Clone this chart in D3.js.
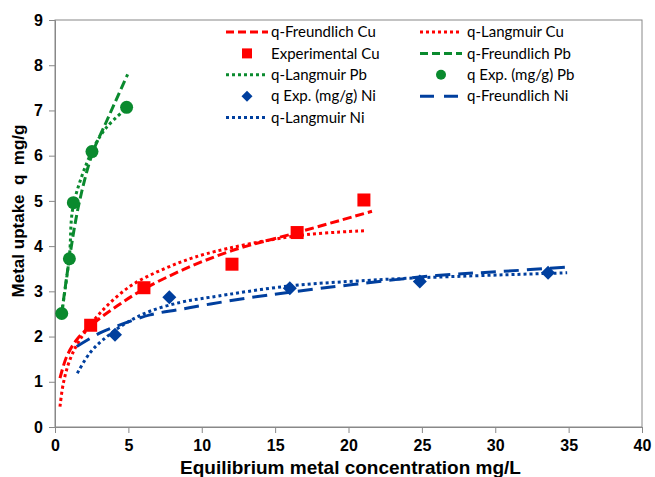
<!DOCTYPE html>
<html>
<head>
<meta charset="utf-8">
<script src="https://cdn.jsdelivr.net/npm/d3@7"></script>
<style>
  body { margin: 0; background: #fff; }
  svg { display: block; }
  .tick text { font-family: "Liberation Sans", Arial, sans-serif; font-weight: bold; font-size: 16px; fill: #000; }
  .legend text { font-family: Lato, "Open Sans", sans-serif; font-size: 15px; fill: #000; }
  .title { font-family: "Liberation Sans", Arial, sans-serif; font-weight: bold; fill: #000; }
</style>
</head>
<body>
<div id="chart"></div>
<script>
// data: [C, q]
const cuFreundlich = [[0.34,1.08],[0.8,1.56],[1.48,1.93],[2.43,2.24],[4.2,2.67],[6.06,3.05],[8.74,3.48],[12.06,3.9],[16.5,4.3],[21.6,4.77]];
const cuLangmuir = [[0.34,0.45],[0.57,0.97],[1.02,1.49],[1.7,1.93],[3.07,2.52],[5.11,3.11],[7.6,3.52],[10.3,3.83],[16.5,4.23],[21.2,4.34]];
const cuExp = [[2.43,2.25],[6.06,3.08],[12.06,3.6],[16.5,4.3],[21.05,5.02]];
const pbFreundlich = [[0.45,2.5],[0.98,3.72],[1.65,4.96],[2.55,6.05],[3.5,6.75],[4.95,7.8]];
const pbLangmuir = [[0.46,2.52],[0.98,3.78],[1.25,4.9],[2.52,6.1],[3.5,6.62],[4.88,7.05]];
const pbExp = [[0.46,2.51],[0.98,3.72],[1.25,4.96],[2.52,6.09],[4.88,7.07]];
const niExp = [[4.09,2.04],[7.79,2.87],[16.0,3.07],[24.86,3.22],[33.6,3.41]];
const niFreundlich = [[1.48,1.78],[3.07,2.08],[4.2,2.23],[6.47,2.48],[8.52,2.6],[10.6,2.72],[13.06,2.85],[16,2.98],[20.3,3.15],[26,3.35],[30.5,3.44],[35.1,3.54]];
const niLangmuir = [[1.52,1.19],[2.38,1.64],[3.28,1.93],[4.85,2.3],[6.47,2.56],[8.6,2.76],[10.6,2.87],[16,3.12],[21.2,3.24],[24.9,3.3],[34.9,3.41]];

const xTicks = [0, 5, 10, 15, 20, 25, 30, 35, 40];
const yTicks = [0, 1, 2, 3, 4, 5, 6, 7, 8, 9];

const red = "#ff0000", green = "#0a8a2e", blue = "#003f9e";

const width = 655, height = 477;
const margin = { left: 55, right: 13, top: 20, bottom: 50 };

const svg = d3.select("#chart").append("svg")
  .attr("width", width)
  .attr("height", height);

const x = d3.scaleLinear().domain([0, 40]).range([margin.left, width - margin.right]);
const y = d3.scaleLinear().domain([0, 9]).range([height - margin.bottom, margin.top]);

// plot border
svg.append("rect")
  .attr("x", x(0)).attr("y", y(9))
  .attr("width", x(40) - x(0)).attr("height", y(0) - y(9))
  .attr("fill", "none").attr("stroke", "#888").attr("stroke-width", 1);

const xAxis = svg.append("g")
  .attr("transform", "translate(0," + y(0) + ")")
  .call(d3.axisBottom(x).tickValues(xTicks).tickSize(6).tickPadding(7));
const yAxis = svg.append("g")
  .attr("transform", "translate(" + x(0) + ",0)")
  .call(d3.axisLeft(y).tickValues(yTicks).tickSize(6).tickPadding(6));
[xAxis, yAxis].forEach(function(a) {
  a.select(".domain").attr("stroke", "#888");
  a.selectAll(".tick line").attr("stroke", "#888");
});

const line = d3.line()
  .x(function(d) { return x(d[0]); })
  .y(function(d) { return y(d[1]); })
  .curve(d3.curveCatmullRom.alpha(0.5));

const dashRed = "9,4", dashGreen = "9,4", dashBlue = "15,8", dots = "3,3";

function drawLine(data, color, dash) {
  svg.append("path")
    .datum(data)
    .attr("fill", "none")
    .attr("stroke", color)
    .attr("stroke-width", 3)
    .attr("stroke-dasharray", dash)
    .attr("d", line);
}

function drawMarker(g, type, cx, cy, size, color) {
  if (type === "square") {
    g.append("rect").attr("x", cx - size / 2).attr("y", cy - size / 2)
      .attr("width", size).attr("height", size).attr("fill", color);
  } else if (type === "circle") {
    g.append("circle").attr("cx", cx).attr("cy", cy).attr("r", size / 2).attr("fill", color);
  } else {
    const h = size / 2;
    g.append("path").attr("d", "M" + cx + "," + (cy - h) + "L" + (cx + h) + "," + cy + "L" + cx + "," + (cy + h) + "L" + (cx - h) + "," + cy + "Z")
      .attr("fill", color);
  }
}

function drawPoints(data, type, size, color) {
  data.forEach(function(d) { drawMarker(svg, type, x(d[0]), y(d[1]), size, color); });
}

drawLine(cuFreundlich, red, dashRed);
drawLine(cuLangmuir, red, dots);
drawPoints(cuExp, "square", 13, red);
drawLine(pbFreundlich, green, dashGreen);
drawLine(pbLangmuir, green, dots);
drawPoints(pbExp, "circle", 13, green);
drawPoints(niExp, "diamond", 14, blue);
drawLine(niFreundlich, blue, dashBlue);
drawLine(niLangmuir, blue, dots);

// legend
const legendItems = [
  { label: "q-Freundlich Cu", kind: "line", color: red, dash: "8,4" },
  { label: "q-Langmuir Cu", kind: "line", color: red, dash: dots },
  { label: "Experimental Cu", kind: "square", color: red },
  { label: "q-Freundlich Pb", kind: "line", color: green, dash: "8,4" },
  { label: "q-Langmuir Pb", kind: "line", color: green, dash: dots },
  { label: "q Exp. (mg/g) Pb", kind: "circle", color: green },
  { label: "q Exp. (mg/g) Ni", kind: "diamond", color: blue },
  { label: "q-Freundlich Ni", kind: "line", color: blue, dash: "14,10" },
  { label: "q-Langmuir Ni", kind: "line", color: blue, dash: dots }
];
const colX = [226, 420], rowY0 = 32, rowH = 21.4;
const legend = svg.append("g").attr("class", "legend");
legendItems.forEach(function(it, i) {
  const cx = colX[i % 2], cy = rowY0 + Math.floor(i / 2) * rowH;
  if (it.kind === "line") {
    legend.append("line")
      .attr("x1", cx).attr("x2", cx + 42).attr("y1", cy).attr("y2", cy)
      .attr("stroke", it.color).attr("stroke-width", 3)
      .attr("stroke-dasharray", it.dash);
  } else {
    const s = it.kind === "diamond" ? 11 : 10;
    drawMarker(legend, it.kind, cx + 21, cy, s, it.color);
  }
  legend.append("text")
    .attr("x", cx + 45 + (i % 2 ? 2 : 0)).attr("y", cy)
    .attr("dy", "0.35em")
    .text(it.label);
});

svg.append("text").attr("class", "title")
  .attr("x", (x(0) + x(40)) / 2 + 2).attr("y", 474)
  .attr("text-anchor", "middle")
  .style("font-size", "19px")
  .text("Equilibrium metal concentration mg/L");

svg.append("text").attr("class", "title")
  .attr("transform", "translate(24," + 211 + ") rotate(-90)")
  .attr("text-anchor", "middle")
  .style("font-size", "17px")
  .style("white-space", "pre")
  .text("Metal uptake  q  mg/g");
</script>
</body>
</html>
